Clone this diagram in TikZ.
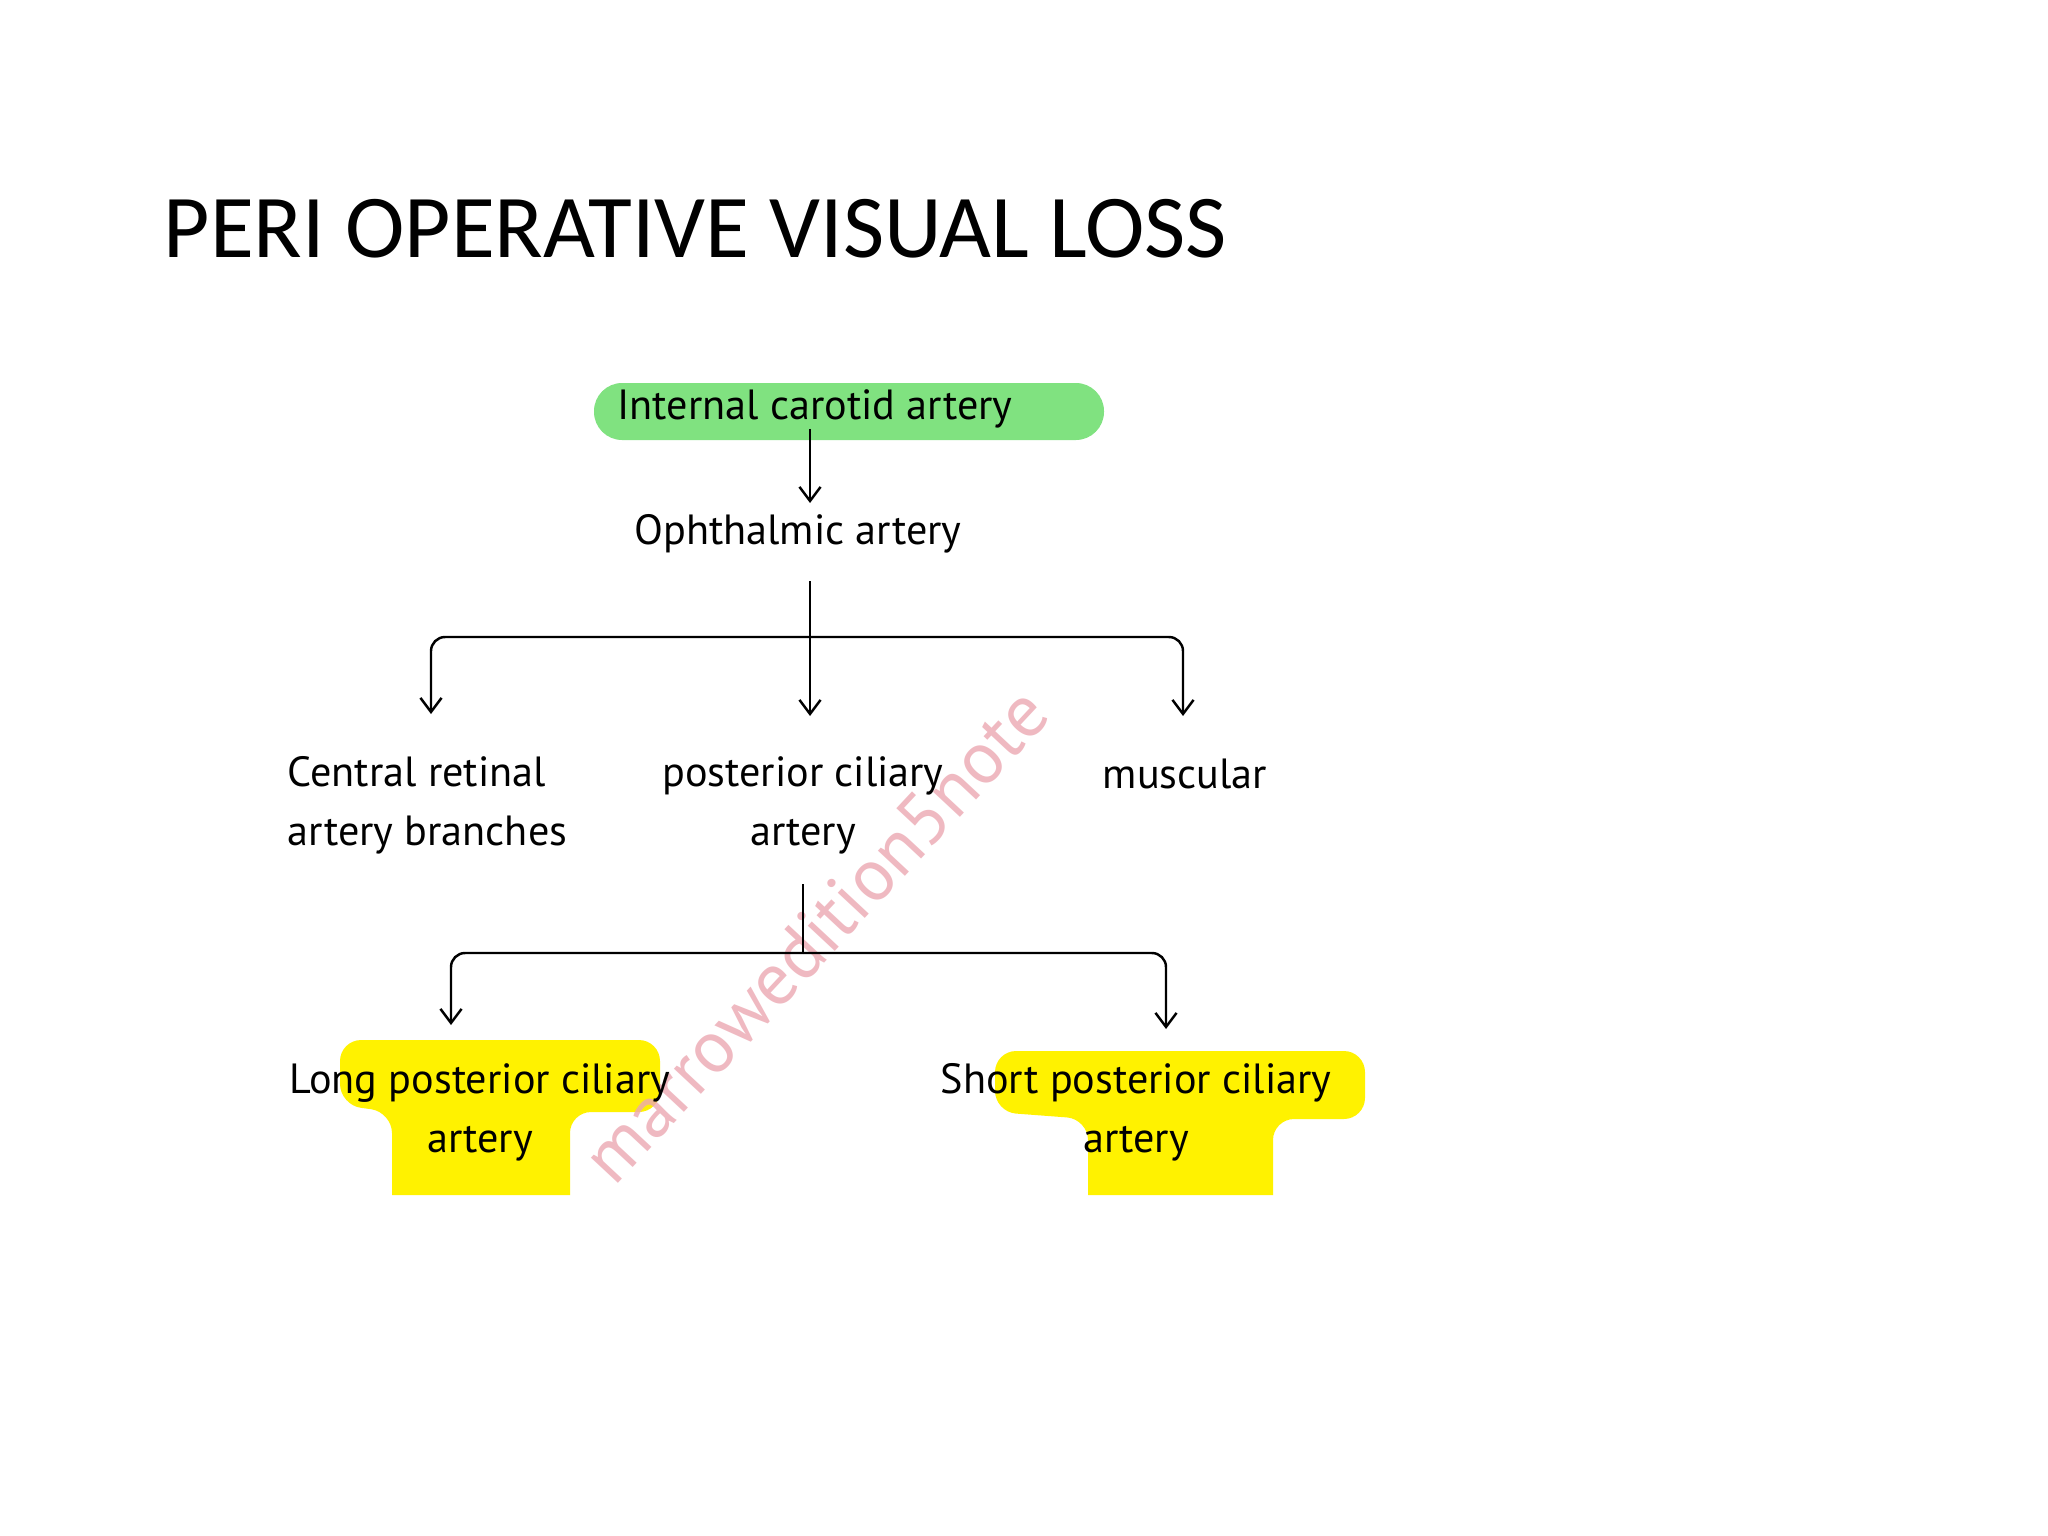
\documentclass[tikz,border=0pt]{standalone}
\usepackage{fontspec}
\setmainfont{PT Sans}
\newfontfamily\titlefont{Carlito}
\usetikzlibrary{arrows.meta}
\definecolor{hlgreen}{RGB}{128,226,128}
\definecolor{hlyellow}{RGB}{255,242,0}
\definecolor{wmpink}{RGB}{236,168,178}
\begin{document}
\begin{tikzpicture}[x=0.01cm,y=-0.01cm,
  lbl/.style={inner sep=0pt,font=\fontsize{12}{16.8}\selectfont},
  arr/.style={line width=0.7pt,-{Straight Barb[length=4pt,width=6pt]}},
  bar/.style={line width=0.7pt}]
\useasboundingbox (0,0) rectangle (2048,1536);
\fill[white] (0,0) rectangle (2048,1536);

\node[anchor=base west,inner sep=0pt,font=\titlefont\fontsize{25.5}{30}\selectfont] (title) at (163,257) {PERI OPERATIVE VISUAL LOSS};

% highlights
\fill[hlgreen,rounded corners=8pt] (594,383) rectangle (1104,440);
\fill[hlyellow,rounded corners=6pt] (392,1195) -- (392,1112) -- (340,1105) -- (340,1040) -- (660,1040) -- (660,1112) -- (570,1112) [sharp corners] -- (570,1195) -- cycle;
\fill[hlyellow,rounded corners=6pt] (1088,1195) -- (1088,1119) -- (995,1112) -- (995,1051) -- (1365,1051) -- (1365,1119) -- (1273,1119) [sharp corners] -- (1273,1195) -- cycle;

% watermark
\node[rotate=47,text=wmpink,font=\fontsize{21}{21}\selectfont,opacity=0.8] (mark) at (815,935) {marrowedition5note};

% nodes
\node[lbl,anchor=north] (ica) at (815,389) {Internal carotid artery};
\node[lbl,anchor=north] (oph) at (798,514) {Ophthalmic artery};
\node[lbl,anchor=north west,align=left] (crb) at (287,756) {Central retinal\\artery branches};
\node[lbl,anchor=north,align=center] (pca) at (803,756) {posterior ciliary\\artery};
\node[lbl,anchor=north] (mus) at (1185,758) {muscular};
\node[lbl,anchor=north,align=center] (lpc) at (480,1063) {Long posterior ciliary\\artery};
\node[lbl,anchor=north,align=center] (spc) at (1136,1063) {Short posterior ciliary\\artery};

% connectors
\coordinate (a1) at (810,503);
\coordinate (o1) at (810,581);
\coordinate (j1) at (810,637);
\coordinate (bl) at (431,714);
\coordinate (bm) at (810,716);
\coordinate (br) at (1183,716);
\coordinate (p1) at (803,884);
\coordinate (j2) at (803,953);
\coordinate (ll) at (451,1025);
\coordinate (sr) at (1166,1029);

\draw[arr] (ica.south -| a1) -- (a1);
\draw[arr] (o1) -- (bm);
\draw[arr,rounded corners=4pt] (j1) -| (bl);
\draw[arr,rounded corners=4pt] (j1) -| (br);
\draw[bar] (p1) -- (j2);
\draw[arr,rounded corners=4pt] (j2) -| (ll);
\draw[arr,rounded corners=4pt] (j2) -| (sr);
\end{tikzpicture}
\end{document}
